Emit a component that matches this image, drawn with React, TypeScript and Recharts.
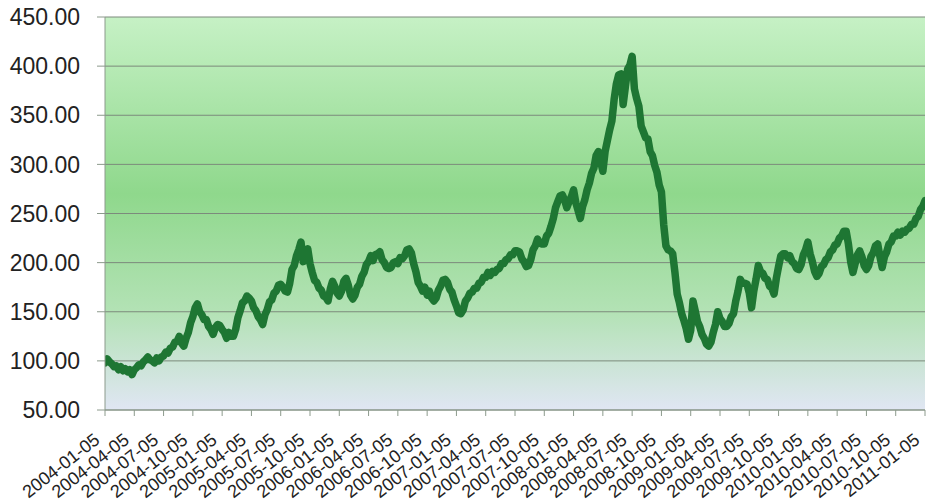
import React from 'react';
import { LineChart, Line, XAxis, YAxis, CartesianGrid } from 'recharts';

// quarter start dates shown on the category axis
const quarterLabels = [
  '2004-01-05', '2004-04-05', '2004-07-05', '2004-10-05',
  '2005-01-05', '2005-04-05', '2005-07-05', '2005-10-05',
  '2006-01-05', '2006-04-05', '2006-07-05', '2006-10-05',
  '2007-01-05', '2007-04-05', '2007-07-05', '2007-10-05',
  '2008-01-05', '2008-04-05', '2008-07-05', '2008-10-05',
  '2009-01-05', '2009-04-05', '2009-07-05', '2009-10-05',
  '2010-01-05', '2010-04-05', '2010-07-05', '2010-10-05',
  '2011-01-05',
];

// weekly closing index, 52 weeks per year (13 per quarter)
const prices2004 = [
  98, 102, 99, 97, 94, 95, 91, 94, 90, 92, 89, 91, 86,
  91, 93, 96, 95, 99, 101, 104, 101, 100, 98, 103, 100, 104,
  105, 109, 108, 113, 114, 119, 120, 125, 118, 115, 123, 129, 139,
  145, 154, 158, 150, 147, 142, 142, 135, 132, 127, 134, 137, 136,
];
const prices2005 = [
  132, 129, 123, 129, 125, 125, 132, 144, 151, 159, 161, 166, 164,
  161, 154, 151, 145, 142, 137, 147, 152, 160, 162, 169, 171, 177,
  178, 175, 171, 170, 179, 193, 197, 207, 213, 221, 201, 207, 214,
  199, 190, 182, 180, 174, 172, 166, 165, 161, 173, 181, 176, 169,
];
const prices2006 = [
  166, 171, 181, 184, 177, 167, 163, 167, 175, 178, 186, 190, 198,
  201, 207, 202, 208, 209, 211, 203, 200, 195, 194, 195, 200, 201,
  199, 205, 204, 207, 213, 214, 210, 199, 191, 180, 176, 171, 175,
  167, 171, 164, 161, 164, 172, 176, 182, 183, 180, 173, 170, 162,
];
const prices2007 = [
  156, 149, 148, 152, 161, 164, 169, 170, 174, 174, 179, 180, 185,
  185, 190, 187, 191, 190, 193, 194, 199, 199, 203, 204, 208, 208,
  212, 212, 211, 204, 201, 196, 197, 203, 213, 217, 224, 220, 219,
  219, 227, 230, 237, 245, 256, 262, 268, 269, 264, 256, 262, 267,
];
const prices2008 = [
  274, 261, 253, 245, 257, 264, 274, 281, 291, 296, 309, 313, 303,
  293, 313, 324, 335, 344, 366, 382, 391, 392, 361, 379, 397, 401,
  410, 377, 367, 359, 339, 333, 327, 326, 313, 309, 299, 292, 279,
  272, 239, 217, 213, 212, 209, 190, 168, 159, 148, 141, 133, 122,
];
const prices2009 = [
  131, 161, 151, 140, 135, 127, 123, 117, 115, 119, 129, 137, 150,
  143, 140, 135, 135, 138, 145, 148, 161, 171, 183, 179, 179, 178,
  169, 154, 171, 183, 197, 191, 189, 184, 183, 176, 174, 168, 184,
  196, 207, 209, 209, 205, 207, 201, 199, 194, 193, 198, 208, 213,
];
const prices2010 = [
  221, 209, 201, 191, 186, 189, 196, 198, 203, 205, 211, 213, 218,
  219, 225, 227, 232, 232, 219, 201, 190, 199, 208, 212, 206, 197,
  193, 197, 206, 210, 217, 219, 206, 195, 206, 211, 219, 221, 227,
  227, 231, 228, 232, 231, 234, 235, 239, 239, 245, 247, 254, 257,
];
const prices2011 = [263];

const priceTicks = [50, 100, 150, 200, 250, 300, 350, 400, 450];

const allPrices = [
  ...prices2004, ...prices2005, ...prices2006, ...prices2007,
  ...prices2008, ...prices2009, ...prices2010, ...prices2011,
];
const chartData = allPrices.map((price, week) => ({ week, price }));
const quarterTicks = quarterLabels.map((_, i) => i * 13);

const FONT = '"Liberation Sans", Arial, sans-serif';

function QuarterTick(props: any) {
  const { x, y, payload } = props;
  const label = quarterLabels[Math.round(payload.value / 13)];
  const tx = x - 4;
  const ty = y + 24;
  return (
    <text
      x={tx}
      y={ty}
      transform={`rotate(-38, ${tx}, ${ty})`}
      textAnchor="end"
      fontSize={18}
      fontFamily={FONT}
      fill="#222"
    >
      {label}
    </text>
  );
}

export default function App() {
  return (
    <div style={{ position: 'absolute', left: 0, top: 0, background: '#fff' }}>
      <LineChart
        width={928}
        height={503}
        data={chartData}
        margin={{ top: 17, right: 3, bottom: 0, left: 0 }}
      >
        <defs>
          <linearGradient id="plotBg" x1="0" y1="0" x2="0" y2="1">
            <stop offset="0%" stopColor="#c6f1c5" />
            <stop offset="45%" stopColor="#8fd88c" />
            <stop offset="75%" stopColor="#b3e2b5" />
            <stop offset="100%" stopColor="#e0e6f3" />
          </linearGradient>
        </defs>
        <CartesianGrid
          vertical={false}
          stroke="#7c8a7c"
          fill="url(#plotBg)"
          fillOpacity={1}
        />
        <XAxis
          dataKey="week"
          type="number"
          domain={[0, 364]}
          ticks={quarterTicks}
          interval={0}
          tick={<QuarterTick />}
          tickSize={6}
          height={93}
          stroke="#8c9a8c"
          allowDataOverflow
        />
        <YAxis
          type="number"
          domain={[50, 450]}
          ticks={priceTicks}
          interval={0}
          tickFormatter={(v: number) => v.toFixed(2)}
          tickSize={8}
          tickMargin={17}
          width={105}
          stroke="#8c9a8c"
          tick={{ fontSize: 23, fill: '#222', fontFamily: FONT }}
        />
        <Line
          type="linear"
          dataKey="price"
          stroke="#1e7633"
          strokeWidth={7.5}
          strokeLinejoin="round"
          strokeLinecap="round"
          dot={false}
          isAnimationActive={false}
        />
      </LineChart>
    </div>
  );
}
